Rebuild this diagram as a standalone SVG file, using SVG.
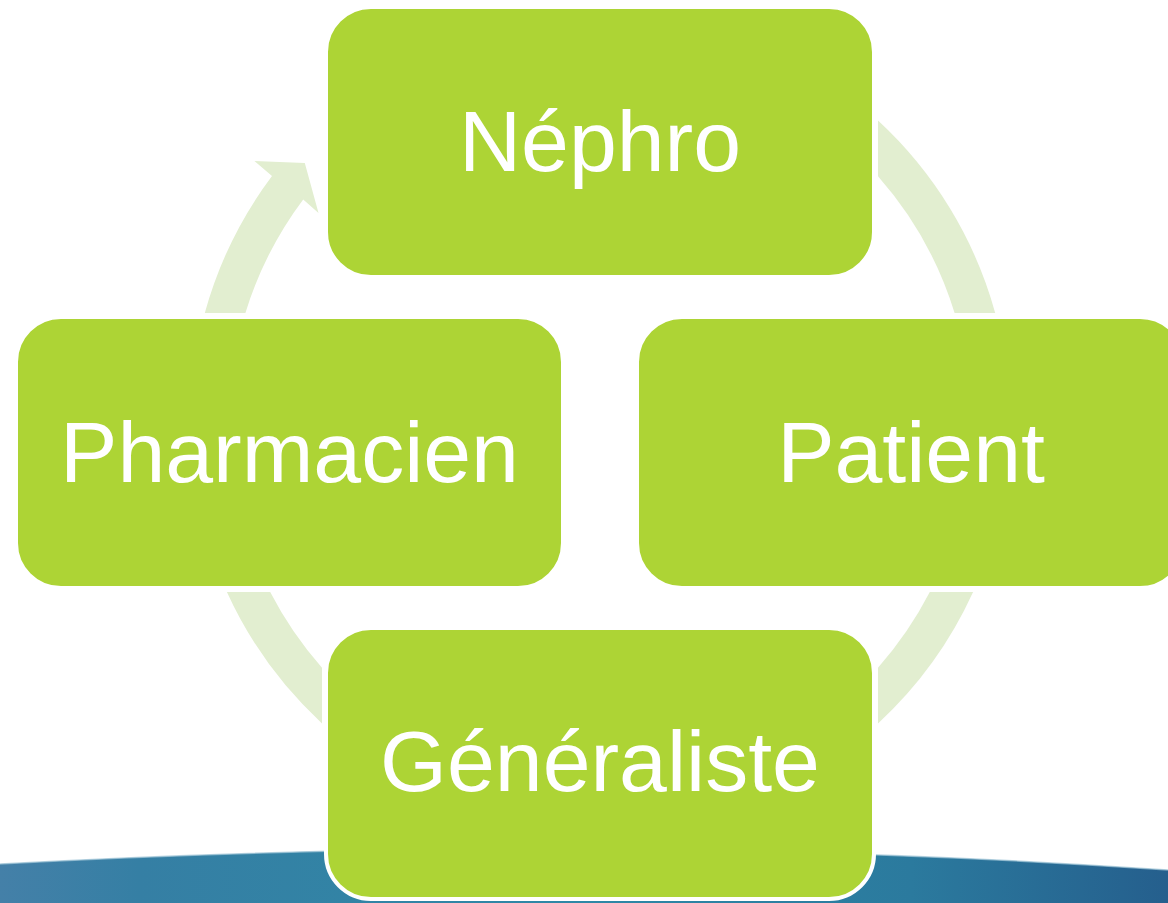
<svg xmlns="http://www.w3.org/2000/svg" width="1168" height="903" viewBox="0 0 1168 903">
<defs>
<style>
.node rect{fill:#ADD435;stroke:#FFFFFF;stroke-width:4}
.node text{fill:#FFFFFF;font-family:"Liberation Sans","DejaVu Sans",sans-serif;font-size:86px;text-anchor:middle}
.arc{fill:#E2EED0;stroke:none}
</style>
<linearGradient id="blue" x1="0" y1="0" x2="1" y2="0">
<stop offset="0" stop-color="#4480A8"/>
<stop offset="0.12" stop-color="#357FA4"/>
<stop offset="0.5" stop-color="#2F88A6"/>
<stop offset="0.78" stop-color="#2B7A9E"/>
<stop offset="1" stop-color="#255F8D"/>
</linearGradient>
</defs>
<rect x="0" y="0" width="1168" height="903" fill="#FFFFFF"/>
<path d="M0,864 Q600,831 1168,870 L1168,903 L0,903 Z" fill="url(#blue)"/>
<path d="M0,864 Q600,831 1168,870" fill="none" stroke="#9CC3D6" stroke-width="1.5" opacity="0.7"/>
<g id="connectors">
<path class="arc" d="M878,120.6 A410,410 0 0 1 995.2,313 L954.6,313 A371,371 0 0 0 878,176.3 Z"/>
<path class="arc" d="M973.1,592 A410,410 0 0 1 878,723.4 L878,667.7 A371,371 0 0 0 929.8,592 Z"/>
<path class="arc" d="M322,723.4 A410,410 0 0 1 226.9,592 L270.2,592 A371,371 0 0 0 322,667.7 Z"/>
<path class="arc" d="M204.8,313 A410,410 0 0 1 272,176 L254.4,161 L304.8,163.1 L318.5,213 L303.2,199.4 A371,371 0 0 0 245.4,313 Z"/>
</g>
<g id="node-nephro" class="node">
<rect x="326" y="7" width="548" height="270" rx="45" ry="45"/>
<text x="600" y="171">Néphro</text>
</g>
<g id="node-pharmacien" class="node">
<rect x="16" y="317" width="547" height="271" rx="45" ry="45"/>
<text x="289.5" y="482">Pharmacien</text>
</g>
<g id="node-patient" class="node">
<rect x="637" y="317" width="548" height="271" rx="45" ry="45"/>
<text x="911" y="482">Patient</text>
</g>
<g id="node-generaliste" class="node">
<rect x="326" y="628" width="548" height="271" rx="45" ry="45"/>
<text x="600" y="791">Généraliste</text>
</g>
</svg>
